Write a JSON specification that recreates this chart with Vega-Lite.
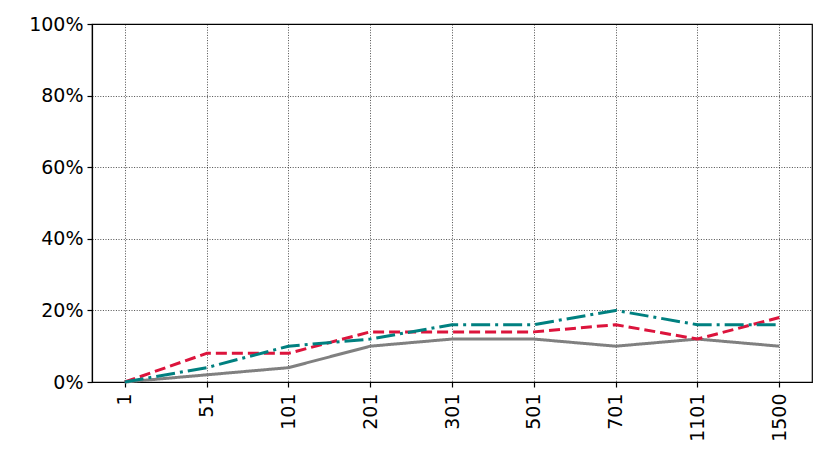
{
  "$schema": "https://vega.github.io/schema/vega-lite/v6.json",
  "autosize": "none",
  "width": 720,
  "height": 358,
  "padding": {"left": 92, "top": 24, "right": 18, "bottom": 86},
  "background": "white",
  "config": {
    "view": {"stroke": "black", "strokeWidth": 1.2},
    "font": "DejaVu Sans",
    "axis": {
      "labelFont": "DejaVu Sans",
      "labelFontSize": 19,
      "labelColor": "black",
      "domainColor": "black",
      "domainWidth": 1.2,
      "tickColor": "black",
      "tickWidth": 1.2,
      "tickSize": 5,
      "gridColor": "black",
      "gridWidth": 0.7,
      "gridDash": [1, 1.6],
      "gridOpacity": 1,
      "title": null
    }
  },
  "data": {
    "values": [
      {"x": "1", "s": "A", "v": 0}, {"x": "51", "s": "A", "v": 0.02}, {"x": "101", "s": "A", "v": 0.04},
      {"x": "201", "s": "A", "v": 0.10}, {"x": "301", "s": "A", "v": 0.12}, {"x": "501", "s": "A", "v": 0.12},
      {"x": "701", "s": "A", "v": 0.10}, {"x": "1101", "s": "A", "v": 0.12}, {"x": "1500", "s": "A", "v": 0.10},
      {"x": "1", "s": "B", "v": 0}, {"x": "51", "s": "B", "v": 0.08}, {"x": "101", "s": "B", "v": 0.08},
      {"x": "201", "s": "B", "v": 0.14}, {"x": "301", "s": "B", "v": 0.14}, {"x": "501", "s": "B", "v": 0.14},
      {"x": "701", "s": "B", "v": 0.16}, {"x": "1101", "s": "B", "v": 0.12}, {"x": "1500", "s": "B", "v": 0.18},
      {"x": "1", "s": "C", "v": 0}, {"x": "51", "s": "C", "v": 0.04}, {"x": "101", "s": "C", "v": 0.10},
      {"x": "201", "s": "C", "v": 0.12}, {"x": "301", "s": "C", "v": 0.16}, {"x": "501", "s": "C", "v": 0.16},
      {"x": "701", "s": "C", "v": 0.20}, {"x": "1101", "s": "C", "v": 0.16}, {"x": "1500", "s": "C", "v": 0.16}
    ]
  },
  "mark": {"type": "line", "strokeWidth": 3, "strokeCap": "butt", "strokeJoin": "round"},
  "encoding": {
    "x": {
      "field": "x", "type": "ordinal",
      "sort": ["1", "51", "101", "201", "301", "501", "701", "1101", "1500"],
      "scale": {"type": "point", "padding": 0.4},
      "axis": {"labelAngle": -90, "labelAlign": "right", "labelBaseline": "middle", "labelPadding": 6, "grid": true}
    },
    "y": {
      "field": "v", "type": "quantitative",
      "scale": {"domain": [0, 1], "nice": false},
      "axis": {"values": [0, 0.2, 0.4, 0.6, 0.8, 1], "format": ".0%", "labelPadding": 4, "grid": true}
    },
    "color": {
      "field": "s", "type": "nominal", "legend": null,
      "scale": {"domain": ["A", "B", "C"], "range": ["#808080", "#DC143C", "#008080"]}
    },
    "strokeDash": {
      "field": "s", "type": "nominal", "legend": null,
      "scale": {"domain": ["A", "B", "C"], "range": [[1, 0], [11, 5], [19, 5, 3, 5]]}
    }
  }
}
